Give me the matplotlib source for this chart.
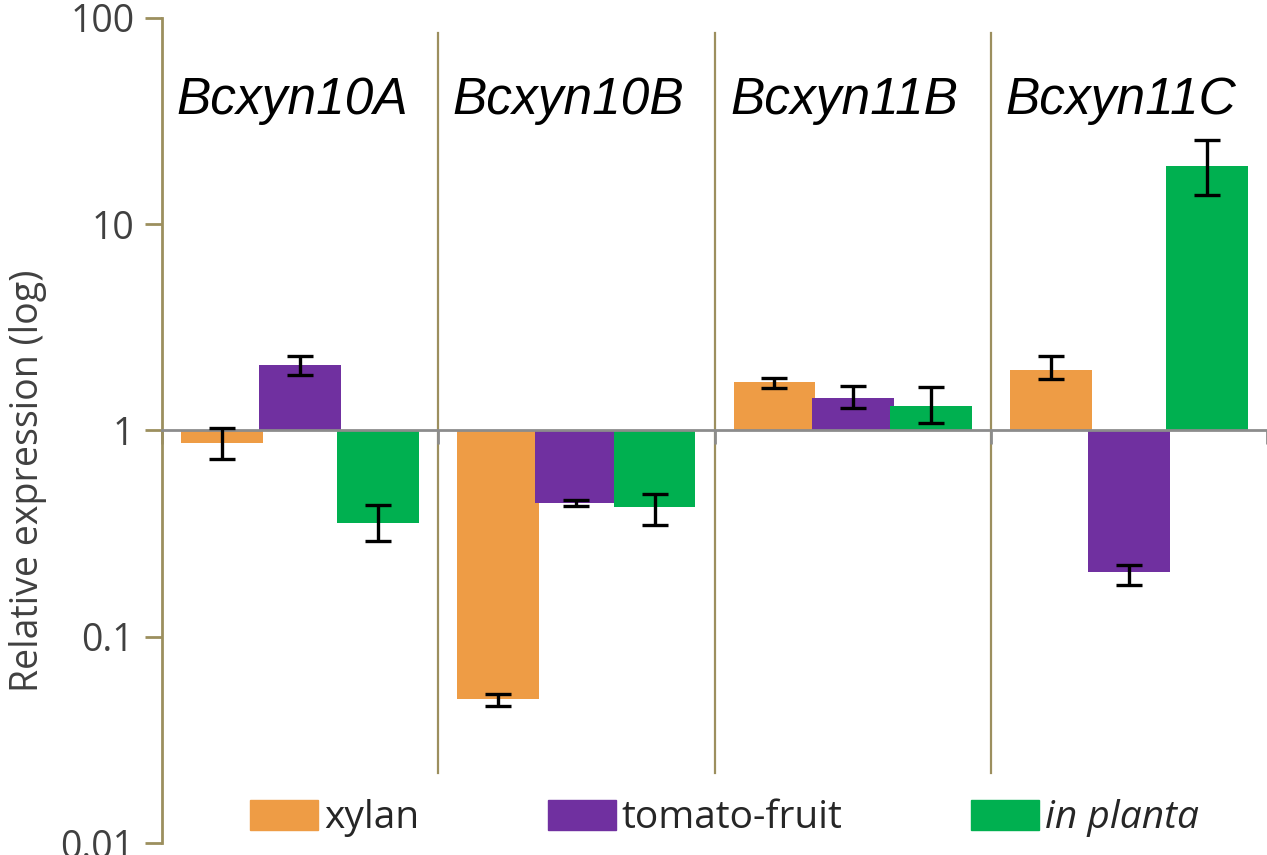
import matplotlib
matplotlib.use("Agg")
import matplotlib.pyplot as plt
from matplotlib.patches import Patch
import numpy as np

# =========================
# DATA
# =========================

genes = ["Bcxyn10A", "Bcxyn10B", "Bcxyn11B", "Bcxyn11C"]
series = ["xylan", "tomato-fruit", "in planta"]

xylan = [0.865, 0.050, 1.71, 1.96]
xylan_lo = [0.73, 0.046, 1.60, 1.77]
xylan_hi = [1.03, 0.053, 1.79, 2.31]

tomato = [2.07, 0.447, 1.43, 0.205]
tomato_lo = [1.85, 0.43, 1.29, 0.179]
tomato_hi = [2.31, 0.46, 1.64, 0.224]

planta = [0.357, 0.428, 1.32, 19.1]
planta_lo = [0.292, 0.350, 1.09, 13.8]
planta_hi = [0.437, 0.494, 1.62, 25.6]

colors = ["#EE9C45", "#7030A0", "#00B050"]
olive = "#9C8F5E"
text_col = "#404040"
font = "Open Sans"

# =========================
# FIGURE
# =========================

fig = plt.figure(figsize=(12.67, 8.55), dpi=100)
ax = fig.add_axes([162 / 1267, 12 / 855, 1105 / 1267, 825 / 855])

x = np.arange(len(genes))
offsets = [-0.283, 0, 0.283]
width = 0.296

values = [xylan, tomato, planta]
lows = [xylan_lo, tomato_lo, planta_lo]
highs = [xylan_hi, tomato_hi, planta_hi]

for i in range(3):
    v = np.array(values[i])
    pos = x + offsets[i]
    ax.bar(pos, v - 1, bottom=1, width=width, color=colors[i], zorder=2)
    yerr = [v - np.array(lows[i]), np.array(highs[i]) - v]
    ax.errorbar(pos, v, yerr=yerr, fmt="none", ecolor="black",
                elinewidth=2.4, capsize=9.5, capthick=2.4, zorder=3)

ax.set_yscale("log")
ax.set_ylim(0.01, 100)
ax.set_xlim(-0.5, 3.5)

# group separators
for b in x[:-1] + 0.5:
    ax.axvline(b, ymin=0.085, ymax=0.982, color=olive, lw=1.6, zorder=1)

# gene names
for i, g in enumerate(genes):
    ax.text(x[i] - 0.03, 40, g, ha="center", va="center", fontsize=37,
            style="italic", family="Liberation Sans", color="black")

# axes styling (Excel-like)
ax.spines["top"].set_visible(False)
ax.spines["right"].set_visible(False)
ax.spines["left"].set_color(olive)
ax.spines["left"].set_linewidth(2)
ax.spines["bottom"].set_position(("data", 1))
ax.spines["bottom"].set_color("#8C8C8C")
ax.spines["bottom"].set_linewidth(2)

ax.set_yticks([0.01, 0.1, 1, 10, 100])
ax.set_yticklabels(["0.01", "0.1", "1", "10", "100"])
ax.yaxis.set_minor_locator(matplotlib.ticker.NullLocator())
ax.tick_params(axis="y", direction="out", length=12, width=2, color=olive,
               labelsize=27, labelcolor=text_col, pad=8)
for lab in ax.get_yticklabels():
    lab.set_family(font)

ax.set_xticks([-0.5, 0.5, 1.5, 2.5, 3.5])
ax.set_xticklabels([])
ax.tick_params(axis="x", direction="out", length=10, width=2, color="#8C8C8C")

fig.text(0.022, 1 - 481 / 855, "Relative expression (log)", rotation=90,
         ha="center", va="center", fontsize=27, color=text_col, family=font)

# legend
handles = [Patch(color=c) for c in colors]
leg = ax.legend(handles, series, ncol=3, loc="center",
                bbox_to_anchor=(0.509, 0.03), frameon=False,
                prop={"family": font, "size": 28},
                handlelength=1.75, handleheight=0.8, handletextpad=0.15,
                columnspacing=3.3)
for t in leg.get_texts():
    t.set_color("#262626")
leg.get_texts()[2].set_style("italic")

plt.savefig("out.png", dpi=100)
plt.close()
